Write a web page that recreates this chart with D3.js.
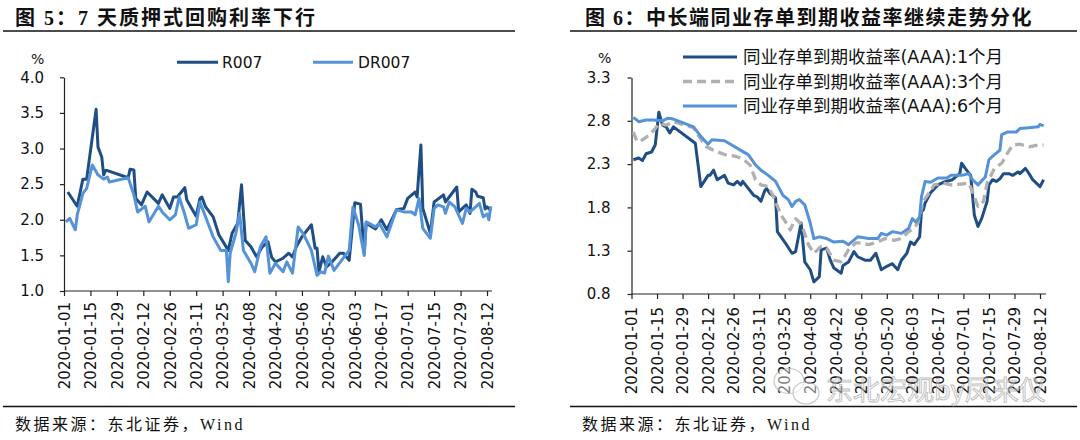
<!DOCTYPE html>
<html><head><meta charset="utf-8">
<script src="https://cdn.jsdelivr.net/npm/d3@7"></script>
<style>body{margin:0;background:#fff}svg{display:block}</style>
</head><body>
<svg id="c" width="1080" height="440"></svg>
<script>
// ---------- data ----------
const tickLabels = ["2020-01-01","2020-01-15","2020-01-29","2020-02-12","2020-02-26","2020-03-11","2020-03-25","2020-04-08","2020-04-22","2020-05-06","2020-05-20","2020-06-03","2020-06-17","2020-07-01","2020-07-15","2020-07-29","2020-08-12"];
const yTicksLeft = [1.0,1.5,2.0,2.5,3.0,3.5,4.0];
const yTicksRight = [0.8,1.3,1.8,2.3,2.8,3.3];

const r007Dates = ["01-03","01-08","01-11","01-13","01-18","01-19","01-21","01-22","01-23","01-24","02-04","02-05","02-07","02-08","02-11","02-14","02-20","02-22","02-26","02-28","03-01","03-05","03-06","03-09","03-11","03-13","03-14","03-16","03-20","03-23","03-28","03-30","04-02","04-04","04-06","04-09","04-12","04-15","04-18","04-20","04-22","04-26","04-29","05-01","05-03","05-06","05-11","05-13","05-14","05-15","05-17","05-19","05-22","05-26","05-28","05-31","06-03","06-06","06-08","06-09","06-14","06-17","06-20","06-25","06-29","07-01","07-05","07-06","07-08","07-09","07-13","07-15","07-20","07-21","07-23","07-27","07-28","08-01","08-03","08-04","08-06","08-07","08-10","08-11","08-12","08-14"];
const r007Values = [2.39,2.19,2.57,2.57,3.55,3.02,2.88,2.63,2.69,2.69,2.59,2.71,2.70,2.30,2.21,2.39,2.23,2.35,2.16,2.32,2.32,2.45,2.28,2.14,2.05,2.30,2.32,2.18,2.04,1.79,1.57,1.81,1.95,2.49,1.71,1.62,1.48,1.62,1.69,1.47,1.41,1.46,1.53,1.48,1.62,1.76,1.93,1.60,1.60,1.27,1.48,1.34,1.41,1.53,1.53,1.43,2.24,2.22,1.53,1.95,1.87,2.00,1.86,2.14,2.16,2.30,2.39,2.32,3.05,2.16,1.81,2.25,2.35,2.25,2.32,2.46,2.11,2.21,2.09,2.43,2.39,2.33,2.31,2.15,2.18,2.13];

const dr007Dates = ["01-02","01-04","01-07","01-08","01-11","01-13","01-16","01-19","01-22","01-24","01-25","02-04","02-07","02-09","02-13","02-15","02-20","02-22","02-26","02-29","03-02","03-05","03-07","03-11","03-13","03-16","03-20","03-24","03-27","03-28","03-29","04-01","04-03","04-05","04-09","04-11","04-14","04-17","04-19","04-22","04-26","04-28","05-01","05-04","05-07","05-11","05-14","05-16","05-18","05-20","05-23","05-27","05-31","06-02","06-05","06-08","06-09","06-14","06-16","06-20","06-25","06-29","07-03","07-05","07-07","07-09","07-13","07-15","07-17","07-20","07-21","07-23","07-26","07-30","08-01","08-03","08-06","08-08","08-10","08-12","08-13","08-14"];
const dr007Values = [1.97,2.02,1.86,2.07,2.37,2.44,2.77,2.63,2.57,2.60,2.53,2.59,2.35,2.11,2.19,1.97,2.19,2.11,2.00,2.07,2.32,2.07,1.88,1.93,2.25,2.04,1.76,1.57,1.57,1.13,1.53,1.81,2.09,1.57,1.39,1.27,1.62,1.76,1.25,1.39,1.27,1.41,1.25,1.90,1.79,1.57,1.22,1.27,1.25,1.49,1.29,1.43,1.57,2.18,1.93,1.50,1.97,1.90,1.95,1.76,2.14,2.11,2.11,2.07,2.30,1.88,1.74,2.16,2.21,2.18,2.09,2.25,2.18,1.95,2.16,2.11,2.18,2.23,2.04,2.08,2.00,2.19];

const cd1mDates = ["01-02","01-05","01-07","01-09","01-12","01-14","01-16","01-18","01-20","01-22","01-24","02-05","02-07","02-08","02-12","02-13","02-15","02-17","02-21","02-23","02-26","02-28","03-01","03-02","03-05","03-08","03-10","03-12","03-14","03-15","03-17","03-20","03-21","03-25","03-29","03-31","04-03","04-05","04-08","04-10","04-13","04-14","04-17","04-19","04-21","04-25","04-26","04-29","05-02","05-04","05-08","05-11","05-14","05-17","05-20","05-23","05-26","05-28","05-31","06-02","06-04","06-07","06-08","06-09","06-10","06-13","06-17","06-20","06-25","06-29","06-30","07-02","07-05","07-06","07-07","07-09","07-11","07-14","07-15","07-17","07-19","07-21","07-23","07-26","07-28","07-31","08-01","08-04","08-06","08-08","08-10","08-12","08-14"];
const cd1mValues = [2.35,2.37,2.34,2.42,2.44,2.52,2.90,2.75,2.73,2.66,2.73,2.54,2.21,2.04,2.17,2.17,2.23,2.12,2.17,2.08,2.06,2.10,2.06,2.10,2.02,1.94,1.92,1.87,1.99,2.02,1.96,1.91,1.52,1.40,1.27,1.29,1.62,1.17,1.08,0.94,1.00,1.31,1.33,1.19,1.10,1.04,1.13,1.17,1.29,1.23,1.19,1.19,1.27,1.08,1.12,1.15,1.08,1.19,1.27,1.40,1.37,1.46,1.75,1.77,1.85,1.97,2.06,2.09,2.12,2.19,2.31,2.25,2.17,1.94,1.71,1.58,1.67,1.87,2.06,2.12,2.10,2.13,2.19,2.19,2.17,2.21,2.19,2.25,2.19,2.12,2.08,2.04,2.12];

const cd3mDates = ["01-02","01-04","01-07","01-11","01-14","01-16","01-20","01-22","01-24","02-04","02-07","02-11","02-15","02-21","02-27","03-02","03-06","03-09","03-12","03-16","03-19","03-23","03-25","03-28","03-31","04-02","04-04","04-07","04-10","04-14","04-17","04-21","04-25","04-29","05-03","05-06","05-10","05-15","05-19","05-24","05-28","06-01","06-04","06-06","06-09","06-12","06-15","06-20","06-24","06-30","07-04","07-06","07-09","07-12","07-14","07-18","07-22","07-25","07-28","08-01","08-06","08-11","08-14"];
const cd3mValues = [2.67,2.56,2.58,2.64,2.71,2.77,2.75,2.77,2.79,2.72,2.62,2.50,2.46,2.41,2.39,2.36,2.29,2.12,2.06,2.04,1.92,1.71,1.65,1.54,1.67,1.63,1.56,1.37,1.27,1.35,1.33,1.19,1.17,1.31,1.39,1.39,1.37,1.40,1.44,1.42,1.44,1.52,1.56,1.62,1.87,1.96,2.06,2.08,2.06,2.07,2.08,1.98,1.81,1.87,2.08,2.25,2.31,2.42,2.52,2.53,2.50,2.52,2.52];

const cd6mDates = ["01-02","01-05","01-09","01-13","01-18","01-21","01-24","02-04","02-08","02-12","02-14","02-21","02-25","02-29","03-05","03-09","03-12","03-16","03-20","03-24","03-27","03-29","03-31","04-02","04-05","04-08","04-10","04-13","04-17","04-21","04-26","04-29","05-04","05-10","05-15","05-17","05-20","05-23","05-28","06-01","06-03","06-05","06-07","06-08","06-10","06-13","06-17","06-22","06-24","06-30","07-04","07-06","07-09","07-13","07-15","07-18","07-21","07-22","07-25","07-30","08-01","08-06","08-11","08-12","08-14"];
const cd6mValues = [2.84,2.79,2.81,2.81,2.80,2.83,2.82,2.73,2.62,2.53,2.58,2.57,2.52,2.47,2.41,2.29,2.23,2.17,2.10,1.94,1.89,1.81,1.87,1.89,1.83,1.62,1.44,1.46,1.44,1.40,1.41,1.37,1.46,1.44,1.44,1.50,1.48,1.52,1.50,1.56,1.67,1.63,1.69,1.92,2.10,2.09,2.14,2.14,2.17,2.17,2.19,2.12,2.06,2.15,2.35,2.41,2.46,2.64,2.67,2.67,2.71,2.72,2.73,2.76,2.74];

// ---------- helpers ----------
const P = d3.utcParse("%Y-%m-%d");
const pd = s => P(s.length === 5 ? "2020-" + s : s);
const zip = (ds, vs) => ds.map((d, i) => ({date: pd(d), value: vs[i]}));
const svg = d3.select("#c");
svg.append("rect").attr("width",1080).attr("height",440).attr("fill","#fff");

const C_DARK = "#1f4e85", C_LIGHT = "#5592d8", C_GREY = "#b0b0b0";
const AX_FONT = "'DejaVu Sans','Noto Sans CJK SC',sans-serif";
const CJK_SERIF = "'Liberation Serif','Noto Sans CJK SC',serif";

function panel(o) {
  svg.append("text").attr("x", o.titleX).attr("y", 25)
    .attr("font-family", CJK_SERIF).attr("font-weight", 700)
    .attr("font-size", 20).attr("letter-spacing", o.titleSpacing)
    .attr("fill", "#111").text(o.title);
  svg.append("line").attr("x1", o.rule[0]).attr("x2", o.rule[1])
    .attr("y1", 31).attr("y2", 31).attr("stroke", "#111").attr("stroke-width", 1.5);
  svg.append("line").attr("x1", o.rule[0]).attr("x2", o.rule[1])
    .attr("y1", 406.5).attr("y2", 406.5).attr("stroke", "#111").attr("stroke-width", 1.5);
  svg.append("text").attr("x", o.srcX).attr("y", 430)
    .attr("font-family", CJK_SERIF).attr("font-size", 16)
    .attr("letter-spacing", 2.5).attr("fill", "#111").text("数据来源：东北证券，Wind");

  const x = d3.scaleUtc().domain([pd(tickLabels[0]), pd(tickLabels[tickLabels.length-1])]).range(o.xr);
  const y = d3.scaleLinear().domain(o.yd).range(o.yr);

  const ga = svg.append("g").attr("transform", `translate(${o.xr[0]},0)`)
    .call(d3.axisLeft(y).tickValues(o.yTicks).tickFormat(d3.format(".1f"))
      .tickSize(4).tickSizeOuter(0).tickPadding(o.yPad));
  ga.selectAll("text").attr("font-family", AX_FONT).attr("font-size", 15).attr("fill", "#111");
  ga.selectAll("line,path").attr("stroke", "#222").attr("stroke-width", 1.2);

  const gx = svg.append("g").attr("transform", `translate(0,${o.yr[0]})`)
    .call(d3.axisBottom(x).tickValues(tickLabels.map(pd)).tickFormat(d3.utcFormat("%Y-%m-%d"))
      .tickSize(5).tickSizeOuter(0));
  gx.select(".domain").attr("d", `M${o.xr[0]},0H${o.xEnd}`);
  gx.selectAll("line,path").attr("stroke", "#222").attr("stroke-width", 1.2);
  gx.selectAll("text").attr("font-family", AX_FONT).attr("font-size", 15).attr("fill", "#111")
    .attr("transform", "rotate(-90)").attr("text-anchor", "end")
    .attr("x", -o.xPad).attr("y", 0).attr("dy", "0.35em");

  svg.append("text").attr("x", o.pctX).attr("y", o.pctY).attr("font-family", AX_FONT)
    .attr("font-size", 14).attr("fill", "#111").text("%");

  const line = d3.line().x(d => x(d.date)).y(d => y(d.value));
  o.series.forEach(s => {
    svg.append("path").datum(zip(s.dates, s.values)).attr("d", line)
      .attr("fill", "none").attr("stroke", s.color).attr("stroke-width", s.w || 3)
      .attr("stroke-dasharray", s.dash || null)
      .attr("stroke-linejoin", "round").attr("stroke-linecap", "butt");
  });

  o.legend.forEach(l => {
    svg.append("line").attr("x1", l.x1).attr("x2", l.x2).attr("y1", l.y).attr("y2", l.y)
      .attr("stroke", l.color).attr("stroke-width", l.w || 3).attr("stroke-dasharray", l.dash || null);
    svg.append("text").attr("x", l.tx).attr("y", l.y).attr("dy", "0.36em")
      .attr("font-family", AX_FONT).attr("font-size", l.fs).attr("fill", "#111").text(l.label);
  });
}

panel({
  title: "图 5：7 天质押式回购利率下行", titleX: 15, titleSpacing: 2,
  rule: [3, 515], srcX: 15,
  xr: [64, 487], xEnd: 492, yd: [1, 4], yr: [291, 77.3], yTicks: yTicksLeft, yPad: 16, xPad: 11,
  pctX: 31, pctY: 64,
  series: [
    {dates: r007Dates, values: r007Values, color: C_DARK},
    {dates: dr007Dates, values: dr007Values, color: C_LIGHT}
  ],
  legend: [
    {x1: 177, x2: 218, y: 62.3, color: C_DARK, tx: 222, fs: 15.5, label: "R007"},
    {x1: 313, x2: 353, y: 62.3, color: C_LIGHT, tx: 358, fs: 15.5, label: "DR007"}
  ]
});

panel({
  title: "图 6：中长端同业存单到期收益率继续走势分化", titleX: 585, titleSpacing: 1.5,
  rule: [570, 1077], srcX: 582,
  xr: [631.5, 1040], xEnd: 1046, yd: [0.8, 3.3], yr: [294, 77.5], yTicks: yTicksRight, yPad: 17, xPad: 13,
  pctX: 598, pctY: 63,
  series: [
    {dates: cd1mDates, values: cd1mValues, color: C_DARK},
    {dates: cd3mDates, values: cd3mValues, color: C_GREY, dash: "9,5", w: 3.3},
    {dates: cd6mDates, values: cd6mValues, color: C_LIGHT}
  ],
  legend: [
    {x1: 683, x2: 737, y: 57, color: C_DARK, tx: 743, fs: 17.5, label: "同业存单到期收益率(AAA):1个月"},
    {x1: 683, x2: 737, y: 81.5, color: C_GREY, dash: "9,5", w: 3.3, tx: 743, fs: 17.5, label: "同业存单到期收益率(AAA):3个月"},
    {x1: 683, x2: 737, y: 106, color: C_LIGHT, tx: 743, fs: 17.5, label: "同业存单到期收益率(AAA):6个月"}
  ]
});

// watermark
const wm = svg.append("g").attr("opacity", 0.75);
wm.append("ellipse").attr("cx", 789).attr("cy", 381).attr("rx", 15).attr("ry", 12.5)
  .attr("fill", "rgba(255,255,255,0.6)").attr("stroke", "#b5b5b5").attr("stroke-width", 1.2);
wm.append("ellipse").attr("cx", 806).attr("cy", 393).attr("rx", 13).attr("ry", 11)
  .attr("fill", "rgba(255,255,255,0.6)").attr("stroke", "#b5b5b5").attr("stroke-width", 1.2);
wm.append("text").attr("x", 826).attr("y", 400).attr("font-family", "'Noto Sans CJK SC',sans-serif")
  .attr("font-size", 27).attr("fill", "rgba(255,255,255,0.55)").attr("stroke", "#a8a8a8")
  .attr("stroke-width", 0.9).text("东北宏观by凤来仪");
</script>
</body></html>
